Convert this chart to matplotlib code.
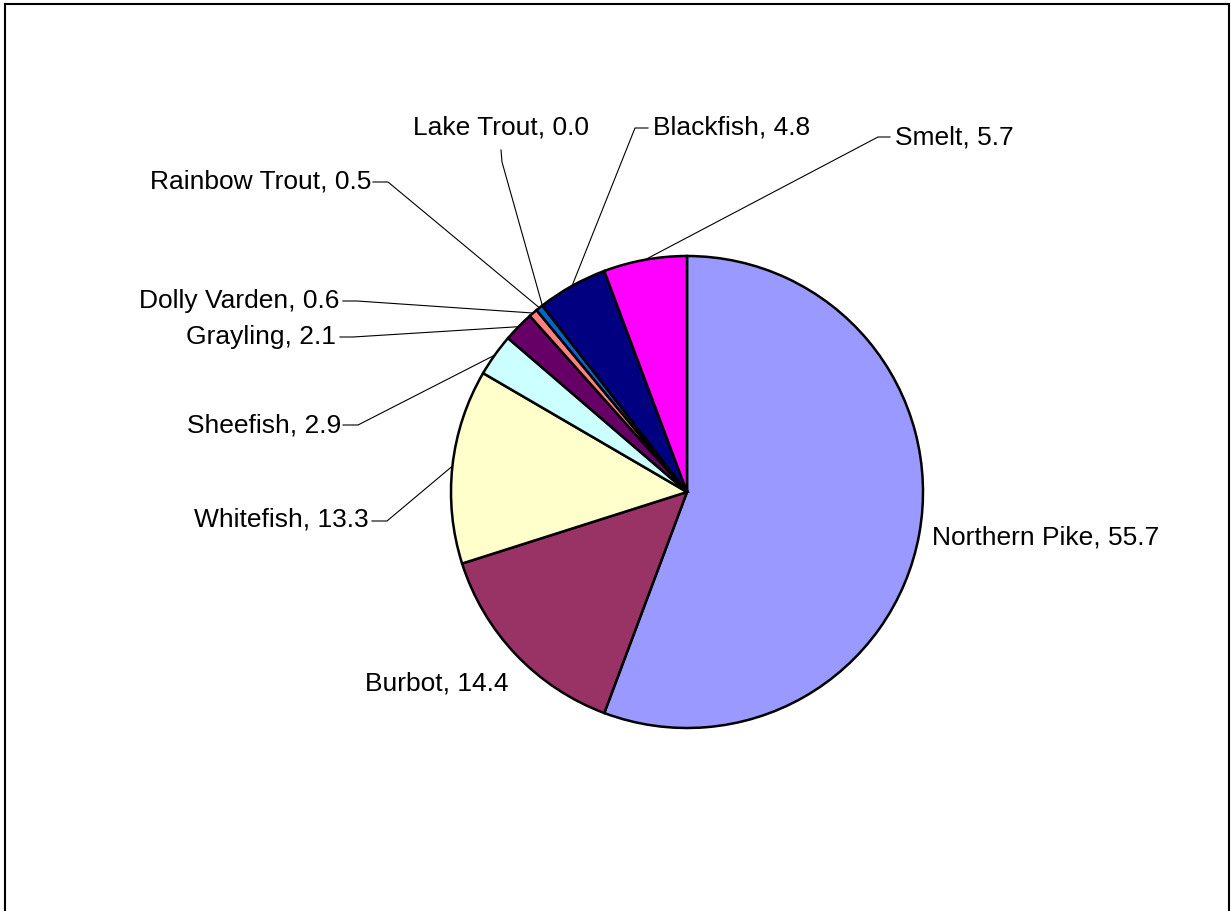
import numpy as np
import matplotlib.pyplot as plt
from matplotlib.patches import Rectangle

plt.rcParams["font.family"] = ["Liberation Sans", "DejaVu Sans"]

W, H = 1231, 911

# data, clockwise from 12 o'clock
species = ["Northern Pike", "Burbot", "Whitefish", "Sheefish", "Grayling",
           "Dolly Varden", "Rainbow Trout", "Lake Trout", "Blackfish", "Smelt"]
percent = [55.7, 14.4, 13.3, 2.9, 2.1, 0.6, 0.5, 0.0, 4.8, 5.7]
colors = ["#9999FF", "#993366", "#FFFFCC", "#CCFFFF", "#660066",
          "#FF8080", "#0066CC", "#CCCCFF", "#000080", "#FF00FF"]

# label layout in pixel coords (y down): text anchor, ha, leader start, elbow
label_layout = {
    "Northern Pike": ((932, 537), "left", None, None),
    "Burbot": ((437, 683), "center", None, None),
    "Whitefish": ((369, 520), "right", (372, 521), (387, 521)),
    "Sheefish": ((341, 425), "right", (343, 425), (358, 425)),
    "Grayling": ((336, 337), "right", (340, 337), (353, 337)),
    "Dolly Varden": ((339, 301), "right", (343, 301), (357, 301)),
    "Rainbow Trout": ((371, 182), "right", (373, 182), (388, 182)),
    "Lake Trout": ((501, 128), "center", (501, 150), (502, 162)),
    "Blackfish": ((653, 128), "left", (648, 128), (635, 128)),
    "Smelt": ((895, 137), "left", (890, 137), (878, 137)),
}

cx, cy, r = 687, 492, 236


def px(x, y):
    return x, H - y


fig = plt.figure(figsize=(W / 100, H / 100), dpi=100)
ax = fig.add_axes([0, 0, 1, 1])

ax.pie(percent, colors=colors, startangle=90, counterclock=False,
       center=px(cx, cy), radius=r,
       wedgeprops=dict(edgecolor="black", linewidth=1.8))

ax.set_xlim(0, W)
ax.set_ylim(0, H)
ax.set_aspect("equal")
ax.axis("off")

# leader lines go to the middle of each wedge's arc
cum = np.cumsum(percent) - np.array(percent) / 2
total = np.sum(percent)
for name, val, mid in zip(species, percent, cum):
    (tx, ty), ha, start, elbow = label_layout[name]
    ax.text(*px(tx, ty), f"{name}, {val:.1f}", fontsize=19,
            ha=ha, va="center", color="black")
    if start is None:
        continue
    ang = np.deg2rad(90 - 360 * mid / total)
    ex, ey = cx + r * np.cos(ang), cy - r * np.sin(ang)
    xs = [start[0], elbow[0], ex]
    ys = [H - start[1], H - elbow[1], H - ey]
    ax.plot(xs, ys, color="black", linewidth=0.8, zorder=0)

ax.add_patch(Rectangle(px(4.5, H + 10), 1224.5, H + 10 - 3.5,
                       fill=False, edgecolor="black", linewidth=1.5))

fig.savefig("out.png", dpi=100)
